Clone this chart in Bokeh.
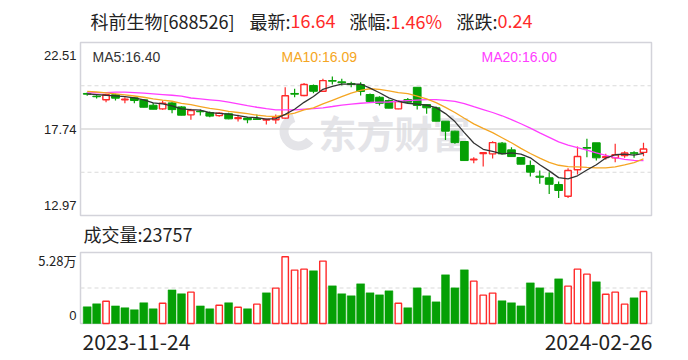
from bokeh.plotting import figure
from bokeh.models import Range1d, Label, ColumnDataSource
from bokeh.embed import file_html
from bokeh.resources import INLINE

# ---------------- data ----------------
stock_name = "科前生物[688526]"
latest = "16.64"
pct = "1.46%"
chg = "0.24"
volume_last = "23757"
date_first = "2023-11-24"
date_last = "2024-02-26"
price_ticks = [12.97, 17.74, 22.51]
vol_max = 52800
vol_tick_labels = ["5.28万", "0"]
ma_labels = ["MA5:16.40", "MA10:16.09", "MA20:16.00"]
prev_close = 19.72

opens = [19.70, 19.55, 19.35, 19.63, 19.35, 19.46, 19.35, 19.05, 18.85, 19.18,
         18.96, 18.52, 18.72, 18.65, 18.48, 18.58, 18.32, 18.34, 18.30, 18.23,
         18.25, 18.34, 19.70, 19.59, 20.14, 19.82, 20.41, 20.34, 20.25, 20.19,
         19.64, 19.49, 19.31, 18.85, 19.36, 20.04, 19.09, 18.91, 18.17, 17.62,
         17.05, 16.04, 16.39, 16.37, 16.96, 16.59, 16.17, 15.73, 15.14, 15.05,
         14.68, 14.03, 15.49, 16.72, 16.98, 16.17, 16.15, 16.28, 16.43, 16.45]
highs = [19.75, 19.60, 19.68, 19.68, 19.49, 19.49, 19.38, 19.18, 19.31, 19.22,
         18.99, 18.85, 18.81, 18.71, 18.66, 18.64, 18.52, 18.40, 18.54, 18.30,
         18.54, 20.04, 19.96, 20.28, 20.19, 20.51, 20.63, 20.51, 20.35, 20.32,
         19.70, 19.55, 19.36, 19.31, 19.45, 20.06, 19.12, 18.98, 18.18, 17.64,
         17.05, 16.18, 16.46, 17.07, 17.02, 16.74, 16.20, 16.00, 15.45, 15.36,
         14.84, 15.58, 16.77, 17.20, 16.98, 16.37, 16.92, 16.51, 16.51, 16.98]
lows = [19.57, 19.42, 19.22, 19.31, 19.16, 19.16, 18.92, 18.81, 18.80, 18.61,
        18.48, 18.25, 18.48, 18.39, 18.42, 18.28, 18.15, 18.06, 18.24, 17.99,
        18.03, 18.30, 19.49, 19.55, 19.71, 19.80, 20.19, 20.14, 20.04, 19.59,
        19.24, 19.04, 18.87, 18.83, 19.18, 18.82, 18.58, 18.15, 17.14, 16.92,
        15.98, 15.85, 15.67, 16.11, 16.35, 16.20, 15.78, 15.12, 14.72, 14.16,
        13.94, 13.94, 15.23, 16.18, 16.00, 16.04, 15.91, 16.15, 16.15, 16.24]
closes = [19.66, 19.52, 19.63, 19.44, 19.38, 19.31, 18.94, 18.83, 19.16, 18.81,
          18.50, 18.76, 18.69, 18.45, 18.61, 18.30, 18.36, 18.25, 18.27, 18.26,
          18.39, 19.57, 19.66, 20.19, 19.82, 20.41, 20.38, 20.29, 20.19, 19.81,
          19.26, 19.16, 18.89, 19.25, 19.22, 19.04, 18.91, 18.17, 17.62, 16.99,
          16.00, 16.07, 16.43, 16.99, 16.37, 16.22, 15.80, 15.36, 15.08, 14.69,
          14.35, 15.45, 16.22, 16.68, 16.15, 16.21, 16.32, 16.42, 16.40, 16.64]
volumes = [12400, 14600, 16600, 13100, 11700, 10200, 15400, 10900, 15100, 25000,
           22100, 23300, 13100, 10900, 13600, 15400, 12100, 10900, 14400, 22800,
           26300, 49600, 39700, 40400, 39200, 46400, 28000, 22100, 20600, 29500,
           22800, 21300, 24300, 15100, 11700, 26500, 20600, 16100, 36200, 26500,
           39900, 31500, 21100, 22600, 16900, 15400, 13100, 30200, 26500, 22800,
           33200, 27800, 40400, 36700, 31000, 21800, 23300, 14400, 19100, 23757]
ma5 = [19.68, 19.64, 19.60, 19.57, 19.53, 19.46, 19.34, 19.18, 19.12, 19.01,
       18.85, 18.81, 18.78, 18.64, 18.60, 18.56, 18.48, 18.39, 18.36, 18.29,
       18.31, 18.55, 18.83, 19.21, 19.53, 19.93, 20.09, 20.22, 20.22, 20.22,
       19.99, 19.74, 19.46, 19.27, 19.16, 19.11, 19.06, 18.92, 18.59, 18.15,
       17.54, 16.97, 16.62, 16.50, 16.37, 16.42, 16.36, 16.15, 15.77, 15.43,
       15.06, 14.99, 15.16, 15.48, 15.77, 16.14, 16.32, 16.36, 16.30, 16.40]
ma10 = [19.82, 19.78, 19.73, 19.68, 19.62, 19.56, 19.49, 19.40, 19.33, 19.27,
        19.15, 19.08, 18.98, 18.88, 18.81, 18.71, 18.65, 18.59, 18.50, 18.45,
        18.43, 18.52, 18.61, 18.79, 18.91, 19.12, 19.32, 19.52, 19.72, 19.87,
        19.96, 19.92, 19.84, 19.75, 19.69, 19.55, 19.40, 19.19, 18.93, 18.65,
        18.33, 18.02, 17.77, 17.54, 17.26, 16.98, 16.67, 16.39, 16.13, 15.90,
        15.74, 15.67, 15.65, 15.62, 15.60, 15.60, 15.65, 15.76, 15.89, 16.09]
ma20 = [19.73, 19.74, 19.75, 19.77, 19.77, 19.75, 19.72, 19.68, 19.64, 19.60,
        19.55, 19.45, 19.40, 19.35, 19.30, 19.22, 19.13, 19.03, 18.94, 18.86,
        18.79, 18.80, 18.80, 18.83, 18.86, 18.91, 18.98, 19.06, 19.11, 19.16,
        19.20, 19.22, 19.23, 19.27, 19.30, 19.33, 19.36, 19.36, 19.32, 19.26,
        19.14, 18.97, 18.81, 18.65, 18.47, 18.26, 18.03, 17.79, 17.53, 17.28,
        17.03, 16.85, 16.71, 16.58, 16.43, 16.29, 16.16, 16.07, 16.01, 16.00]

# ---------------- styles / layout (pixels) ----------------
W, H = 688, 360
FX0, FX1 = 80, 651          # plot frames, left/right
PY0, PY1 = 42, 215          # price frame top/bottom
VY0, VY1 = 252, 323         # volume frame top/bottom
SLOT_L, SLOT_R = -0.71, 59.85

RED = "#ff2a2a"
GREEN = "#05a005"
C_MA5 = "#333333"
C_MA10 = "#f5a623"
C_MA20 = "#ff3dff"
BORDER = "#d3d3da"
GRID = "#dadada"
TXT = "#222222"
CJK = "Noto Sans CJK SC"
LAT = "Liberation Sans"

# ranges such that the whole canvas is the plot frame
xpp = (SLOT_R - SLOT_L) / (FX1 - FX0)
X0 = SLOT_L - FX0 * xpp
X1 = SLOT_R + (W - FX1) * xpp
ypp = (price_ticks[-1] - price_ticks[0]) / (PY1 - PY0)
Y1 = price_ticks[-1] + PY0 * ypp
Y0 = price_ticks[0] - (H - PY1) * ypp
vpp = vol_max / (VY1 - VY0)
V1 = VY1 * vpp
V0 = -(H - VY1) * vpp

n = len(closes)
xs = list(range(n))
up = [c >= o for o, c in zip(opens, closes)]
prevs = [prev_close] + closes[:-1]
vol_up = [c >= p for c, p in zip(closes, prevs)]


def sel(lst, mask):
    return [v for v, m in zip(lst, mask) if m]


p = figure(width=W, height=H, title=None, output_backend="svg", toolbar_location=None,
           x_axis_type=None, y_axis_type=None,
           x_range=Range1d(X0, X1), y_range=Range1d(Y0, Y1), min_border=0)
p.extra_y_ranges = {"vol": Range1d(V0, V1)}
p.outline_line_color = None
p.background_fill_color = "white"
p.border_fill_color = "white"
p.grid.visible = False

# frames
p.quad(left=[SLOT_L], right=[SLOT_R], bottom=[price_ticks[0]], top=[price_ticks[-1]],
       fill_color=None, line_color=BORDER, line_width=1.5)
p.quad(left=[SLOT_L], right=[SLOT_R], bottom=[0], top=[vol_max], fill_color=None,
       line_color=BORDER, line_width=1.5, y_range_name="vol")

# grid lines
q_hi = (price_ticks[1] + price_ticks[2]) / 2
q_lo = (price_ticks[0] + price_ticks[1]) / 2
p.segment(x0=[SLOT_L], x1=[SLOT_R], y0=[price_ticks[1]], y1=[price_ticks[1]],
          line_color=GRID, line_width=1.5)
p.segment(x0=[SLOT_L, SLOT_L], x1=[SLOT_R, SLOT_R], y0=[q_hi, q_lo], y1=[q_hi, q_lo],
          line_color=GRID, line_width=1.2, line_dash="4 3")
p.segment(x0=[SLOT_L], x1=[SLOT_R], y0=[vol_max / 2], y1=[vol_max / 2],
          line_color=GRID, line_width=1.2, line_dash="4 3", y_range_name="vol")

# watermark (decoration)
p.add_layout(Label(x=318, y=H - 131, x_units="screen", y_units="screen", text="东方财富",
                   text_font=CJK, text_font_size="38px", text_font_style="bold",
                   text_color="#e4e4e8", text_baseline="middle", level="underlay"))
p.annular_wedge(x=[X0 + 298 * xpp], y=[Y1 - 131 * ypp], inner_radius=10, outer_radius=19,
                inner_radius_units="screen", outer_radius_units="screen",
                start_angle=1.9, end_angle=5.6, fill_color="#e4e4e8", line_color=None,
                level="underlay")

# candles
tops = [max(o, c) for o, c in zip(opens, closes)]
bots = [min(o, c) for o, c in zip(opens, closes)]
cols = [RED if u else GREEN for u in up]
src = ColumnDataSource(dict(x=xs, h=highs, l=lows, t=tops, b=bots, c=cols))
p.segment(x0="x", y0="h", x1="x", y1="t", line_color="c", line_width=1.2, source=src)
p.segment(x0="x", y0="b", x1="x", y1="l", line_color="c", line_width=1.2, source=src)

dn = [not u for u in up]
p.vbar(x=sel(xs, dn), top=sel(tops, dn), bottom=sel(bots, dn), width=0.82,
       fill_color=GREEN, line_color=GREEN, line_width=1)
p.vbar(x=sel(xs, up), top=sel(tops, up), bottom=sel(bots, up), width=0.68,
       fill_color="white", line_color=RED, line_width=1.4)

p.line(xs, ma20, line_color=C_MA20, line_width=1.3)
p.line(xs, ma10, line_color=C_MA10, line_width=1.3)
p.line(xs, ma5, line_color=C_MA5, line_width=1.3)

# volume bars
vdn = [not u for u in vol_up]
p.vbar(x=sel(xs, vdn), top=sel(volumes, vdn), bottom=0, width=0.84,
       fill_color=GREEN, line_color=GREEN, line_width=0.5, y_range_name="vol")
p.vbar(x=sel(xs, vol_up), top=sel(volumes, vol_up), bottom=0, width=0.68,
       fill_color="white", line_color=RED, line_width=1.4, y_range_name="vol")


def lab(x, y, text, size, color=TXT, font=CJK, align="left", baseline="middle"):
    p.add_layout(Label(x=x, y=H - y, x_units="screen", y_units="screen", text=text,
                       text_font=font, text_font_size=size, text_color=color,
                       text_align=align, text_baseline=baseline))


# title
title_parts = [(90, stock_name, TXT), (249, "最新:", TXT), (290, latest, RED),
               (349, "涨幅:", TXT), (390, pct, RED), (456, "涨跌:", TXT), (497, chg, RED)]
for xx, txt, col in title_parts:
    lab(xx, 20, txt, "18px", col)

# MA legend
for xx, txt, col in zip((92, 281, 481), ma_labels, (C_MA5, C_MA10, C_MA20)):
    lab(xx, 56, txt, "14px", col, LAT)

# price tick labels
for v, yy in zip(price_ticks, (PY1 - 10, (PY0 + PY1) / 2, PY0 + 13)):
    lab(76, yy, f"{v:.2f}", "13px", TXT, LAT, "right")

lab(83, 233, "成交量:" + volume_last, "18px")
lab(76, VY0 + 8, vol_tick_labels[0], "13px", TXT, CJK, "right")
lab(76, VY1 - 8, vol_tick_labels[1], "13px", TXT, LAT, "right")

lab(82, 341, date_first, "21px", TXT, CJK)
lab(652, 341, date_last, "21px", TXT, CJK, "right")

open("out.html", "w").write(file_html(p, INLINE))
